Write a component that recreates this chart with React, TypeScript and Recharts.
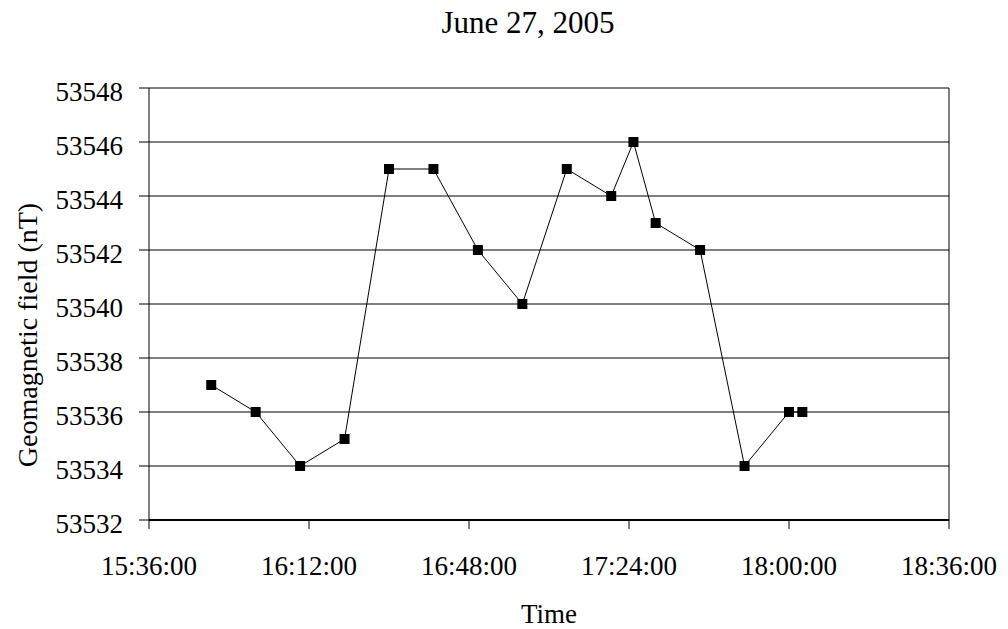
import React from "react";
import { LineChart, Line, XAxis, YAxis, CartesianGrid, ReferenceLine, Label } from "recharts";

const times = ["15:50", "16:00", "16:10", "16:20", "16:30", "16:40", "16:50", "17:00", "17:10", "17:20", "17:25", "17:30", "17:40", "17:50", "18:00", "18:03"];
const fieldValues = [53537, 53536, 53534, 53535, 53545, 53545, 53542, 53540, 53545, 53544, 53546, 53543, 53542, 53534, 53536, 53536];
const xTickLabels = ["15:36:00", "16:12:00", "16:48:00", "17:24:00", "18:00:00", "18:36:00"];
const yTicks = [53532, 53534, 53536, 53538, 53540, 53542, 53544, 53546, 53548];
const title = "June 27, 2005";
const xTitle = "Time";
const yTitle = "Geomagnetic field (nT)";

const toMin = (s: string) => {
  const [h, m] = s.split(":").map(Number);
  return h * 60 + m;
};
const fmt = (v: number) => {
  const h = Math.floor(v / 60);
  const m = v % 60;
  return `${h}:${String(m).padStart(2, "0")}:00`;
};

const data = times.map((t, i) => ({ t: toMin(t), v: fieldValues[i] }));
const xTicks = xTickLabels.map(toMin);

const FONT = '"Liberation Serif", "Times New Roman", serif';

const SquareDot = (p: any) => (
  <rect key={`d${p.index}`} x={p.cx - 5} y={p.cy - 5} width={10} height={10} fill="#000" />
);

export default function App() {
  return (
    <div style={{ position: "absolute", left: 0, top: 0, width: 1008, height: 629, background: "#fff", fontFamily: FONT }}>
      <div
        style={{
          position: "absolute",
          left: 0,
          top: 7,
          width: 1056,
          textAlign: "center",
          fontSize: 31,
          lineHeight: "31px",
          color: "#000",
          fontFamily: FONT,
        }}
      >
        {title}
      </div>
      <LineChart
        width={1008}
        height={629}
        data={data}
        margin={{ top: 88, right: 59, bottom: 0, left: 0 }}
        style={{ position: "absolute", left: 0, top: 0 }}
      >
        <CartesianGrid horizontal={true} vertical={false} stroke="#000" strokeWidth={1} />
        <ReferenceLine x={xTicks[xTicks.length - 1]} stroke="#000" strokeWidth={1} />
        <XAxis
          dataKey="t"
          type="number"
          domain={[xTicks[0], xTicks[xTicks.length - 1]]}
          ticks={xTicks}
          tickFormatter={fmt}
          height={109}
          tickSize={9}
          tickMargin={27}
          axisLine={{ stroke: "#000", strokeWidth: 2 }}
          tickLine={{ stroke: "#000", strokeWidth: 1 }}
          tick={{ fill: "#000", fontSize: 27, fontFamily: FONT }}
          interval={0}
        >
          <Label
            content={() => (
              <text x={549} y={623} textAnchor="middle" fontSize={27} fontFamily={FONT} fill="#000">
                {xTitle}
              </text>
            )}
          />
        </XAxis>
        <YAxis
          type="number"
          domain={[yTicks[0], yTicks[yTicks.length - 1]]}
          ticks={yTicks}
          width={149}
          tickSize={10}
          tickMargin={16}
          axisLine={{ stroke: "#000", strokeWidth: 1 }}
          tickLine={{ stroke: "#000", strokeWidth: 1 }}
          tick={{ fill: "#000", fontSize: 27, fontFamily: FONT, dy: 3 }}
          interval={0}
        >
          <Label
            content={() => (
              <text
                x={0}
                y={0}
                transform="translate(37, 335) rotate(-90)"
                textAnchor="middle"
                fontSize={28}
                fontFamily={FONT}
                fill="#000"
              >
                {yTitle}
              </text>
            )}
          />
        </YAxis>
        <Line
          dataKey="v"
          type="linear"
          stroke="#000"
          strokeWidth={1}
          dot={SquareDot}
          activeDot={false}
          isAnimationActive={false}
        />
      </LineChart>
    </div>
  );
}
